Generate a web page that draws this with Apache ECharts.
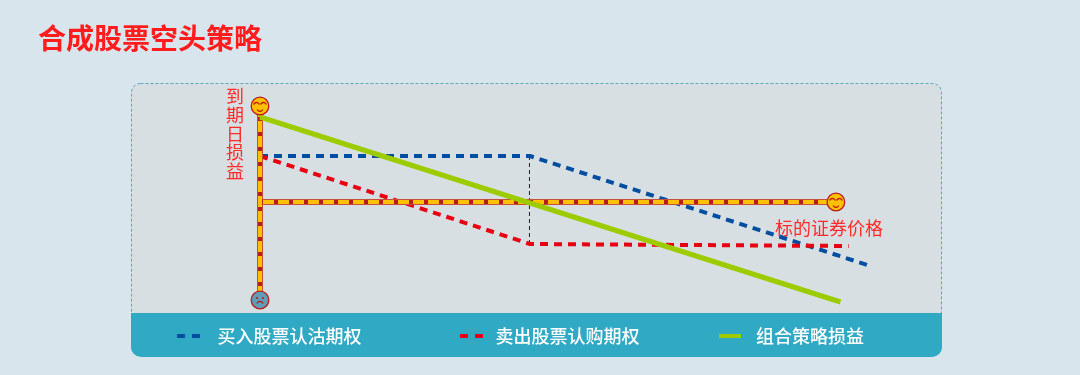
<!DOCTYPE html>
<html><head><meta charset="utf-8">
<style>html,body{margin:0;padding:0;background:#d9e5ec}#c{width:1080px;height:375px}</style>
<script src="https://cdn.jsdelivr.net/npm/echarts@6/dist/echarts.min.js"></script>
</head><body><div id="c"></div>
<script>
const titleText = '合成股票空头策略';
const yAxisLabel = '到\n期\n日\n损\n益';
const xAxisLabel = '标的证券价格';
const longPut = [[0,46],[100,46],[225,-63]];
const shortCall = [[0,46],[100,-42],[218,-44]];
const combined = [[0,85],[215,-100]];
const strikeGuide = [[99.8,46],[99.8,-42]];
const axisH = [[0,0],[211.5,0]];
const axisV = [[0,96],[0,-98]];
const happyFaces = [[0,96],[213.3,0]];
const sadFaces = [[0,-98]];
const names = ['买入股票认沽期权','卖出股票认购期权','组合策略损益'];
const FONT = '"Noto Sans CJK SC","Noto Sans",sans-serif';
const RED='#b71c1c', EDGE='#c4503c', YEL='#ffc000';
const DASH_KEY='path://M0 0H8V4H0ZM15 0H23V4H15Z', SOLID_KEY='path://M0 0H22V4H0Z';

function face(params, api){
  const c = api.coord([api.value(0), api.value(1)]);
  const sad = api.value(2) === 1;
  const [x,y] = c, r = 8.8;
  const st = {stroke:RED, lineWidth:1.2, fill:'none'};
  const kids = [{type:'circle',shape:{cx:x,cy:y,r},style:{fill:sad?'#5f9db8':YEL,stroke:RED,lineWidth:1.3}}];
  if(sad){
    kids.push({type:'circle',shape:{cx:x-3,cy:y-2,r:1.1},style:{fill:RED}});
    kids.push({type:'circle',shape:{cx:x+3,cy:y-2,r:1.1},style:{fill:RED}});
    kids.push({type:'arc',shape:{cx:x,cy:y+5,r:3.5,startAngle:Math.PI*1.15,endAngle:Math.PI*1.85},style:st});
  }else{
    kids.push({type:'arc',shape:{cx:x-3.5,cy:y-0.5,r:3,startAngle:Math.PI*1.1,endAngle:Math.PI*1.9},style:{...st,lineWidth:1.5}});
    kids.push({type:'arc',shape:{cx:x+3.5,cy:y-0.5,r:3,startAngle:Math.PI*1.1,endAngle:Math.PI*1.9},style:{...st,lineWidth:1.5}});
    kids.push({type:'arc',shape:{cx:x,cy:y+2,r:3.2,startAngle:Math.PI*0.15,endAngle:Math.PI*0.85},style:st});
  }
  return {type:'group',children:kids};
}
function faceSeries(data, flag){
  return {type:'custom',renderItem:face,coordinateSystem:'cartesian2d',clip:false,z:8,silent:true,
    data:data.map(d=>[d[0],d[1],flag])};
}
function plain(data,color,width,type,z,extra){
  return Object.assign({type:'line',data,symbol:'none',showSymbol:false,clip:false,silent:true,animation:false,z,
    lineStyle:{color,width,type,cap:'butt'},itemStyle:{color}},extra||{});
}
const chart = echarts.init(document.getElementById('c'),null,{renderer:'canvas'});
function legendAt(left,name,gap,icon,w,color){
  return {top:322,left,itemWidth:w,itemHeight:4,selectedMode:false,
    data:[{name,icon,itemStyle:{color,opacity:1}}],
    textStyle:{color:'#fff',fontSize:18,fontFamily:FONT,fontWeight:500,padding:[0,0,0,gap]}};
}
chart.setOption({
  animation:false,
  backgroundColor:'#d9e5ec',
  title:{text:titleText,left:33,top:19,textStyle:{color:'#ff1c1c',fontSize:28,fontWeight:'bold',fontFamily:FONT}},
  grid:{left:260,top:106,width:648,height:206,containLabel:false},
  xAxis:{type:'value',min:0,max:240,show:false},
  yAxis:{type:'value',min:-110,max:96,show:false},
  legend:[
    legendAt(172,names[0],12,DASH_KEY,24,'#004ea2'),
    legendAt(455,names[1],7,DASH_KEY,24,'#e60012'),
    legendAt(714,names[2],10,SOLID_KEY,22,'#9ccc00')
  ],
  graphic:[
    {type:'rect',z:-10,shape:{x:131.5,y:83.5,width:810,height:272,r:9},style:{fill:'#d8dfe3',stroke:'#5aa6b8',lineWidth:1,lineDash:[3,2]}},
    {type:'rect',z:-9,shape:{x:131,y:313,width:811,height:44,r:[0,0,10,10]},style:{fill:'#2fa9c4'}},
    {type:'text',z:20,style:{text:yAxisLabel,x:235,y:87,align:'center',verticalAlign:'top',fill:'#ff2a2a',font:'18px '+FONT,lineHeight:18.7}},
    {type:'text',z:20,style:{text:xAxisLabel,x:775,y:228,align:'left',verticalAlign:'middle',fill:'#ff2a2a',font:'18px '+FONT}}
  ],
  series:[
    plain(strikeGuide,'#222222',1,[4,3],2,{}),
    plain(longPut,'#004ea2',4,[8,6],3,{name:names[0]}),
    plain(shortCall,'#e60012',4,[8,6],3,{name:names[1]}),
    plain(axisV,EDGE,6,'solid',4),
    plain(axisH,EDGE,6,'solid',4),
    plain(axisV,RED,4,'solid',4),
    plain(axisH,RED,4,'solid',4),
    plain(axisV,YEL,4,[11,4],5),
    plain(axisH,YEL,4,[11,4],5,{lineStyle:{color:YEL,width:4,type:[11,4],dashOffset:12,cap:'butt'}}),
    plain(combined,'#9ccc00',5,'solid',6,{name:names[2]}),
    faceSeries(happyFaces,0),
    faceSeries(sadFaces,1)
  ]
});
</script></body></html>
